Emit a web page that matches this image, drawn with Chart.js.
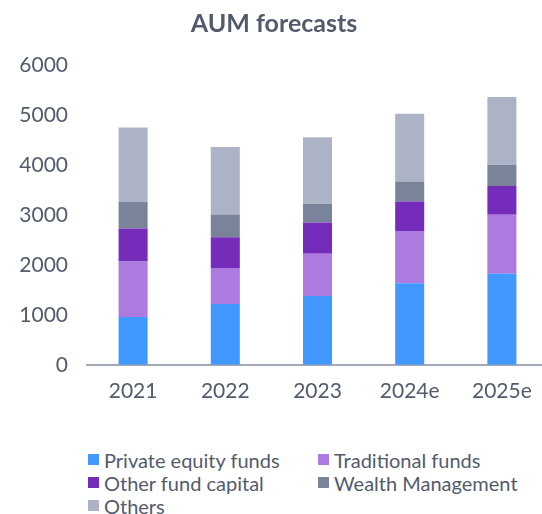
<!DOCTYPE html>
<html>
<head>
<meta charset="utf-8">
<script src="https://cdn.jsdelivr.net/npm/chart.js@4.4.1/dist/chart.umd.min.js"></script>
<style>
    html, body { margin: 0; padding: 0; background: #fff; overflow: hidden; }
    #wrap { position: relative; width: 542px; height: 514px; overflow: hidden; }
    #box { position: absolute; left: 0; top: 0; width: 562px; height: 412px; }
    #legend {
        position: absolute; left: 88px; top: 448px;
        display: grid; grid-template-columns: 230px 230px;
        font-family: Lato, sans-serif; font-size: 20px; color: #525b6d;
    }
    .item { display: flex; align-items: center; height: 23px; white-space: nowrap; }
    .sw { width: 11px; height: 11px; margin-right: 5px; flex: none; }
</style>
</head>
<body>
<div id="wrap">
    <div id="box"><canvas id="chart"></canvas></div>
    <div id="legend"></div>
</div>
<script>
const years = ["2021", "2022", "2023", "2024e", "2025e"];
const privateEquity = [955, 1215, 1375, 1630, 1820];
const traditional = [1110, 720, 845, 1050, 1185];
const otherFund = [665, 620, 630, 590, 575];
const wealth = [530, 455, 375, 400, 425];
const others = [1490, 1350, 1330, 1355, 1355];

const labels = ["Private equity funds", "Traditional funds", "Other fund capital", "Wealth Management", "Others"];
const colors = ["#4199ff", "#ad7ae0", "#762cbb", "#79839a", "#adb3c6"];
const series = [privateEquity, traditional, otherFund, wealth, others];

const textColor = "#525b6d";

const datasets = series.map((d, i) => ({
    label: labels[i],
    data: d,
    backgroundColor: colors[i],
    borderWidth: 0,
    categoryPercentage: 1,
    barPercentage: 0.315
}));

new Chart(document.getElementById("chart"), {
    type: "bar",
    data: { labels: years, datasets },
    options: {
        responsive: true,
        maintainAspectRatio: false,
        animation: false,
        layout: { padding: { left: 0, right: 14, bottom: 2, top: 0 } },
        plugins: {
            legend: { display: false },
            tooltip: { enabled: false },
            title: {
                display: true,
                text: "AUM forecasts",
                color: textColor,
                font: { family: "Lato", size: 25, weight: "bold" },
                padding: { top: 9, bottom: 26 }
            }
        },
        scales: {
            x: {
                stacked: true,
                grid: { display: false },
                border: { display: true, color: "#a3a8b8", width: 2 },
                ticks: { color: textColor, font: { family: "Lato", size: 21 }, padding: 6 }
            },
            y: {
                stacked: true,
                min: 0,
                max: 6000,
                grid: { display: false },
                border: { display: false },
                // fixed axis width so the plot starts where the reference does
                afterFit: (scale) => { scale.width = 87; },
                ticks: {
                    stepSize: 1000,
                    color: textColor,
                    font: { family: "Lato", size: 21 },
                    padding: 11,
                    callback: (v) => String(v)
                }
            }
        }
    }
});

// legend in two columns, like the reference
const legendEl = document.getElementById("legend");
labels.forEach((l, i) => {
    const it = document.createElement("div");
    it.className = "item";
    const sw = document.createElement("span");
    sw.className = "sw";
    sw.style.background = colors[i];
    const tx = document.createElement("span");
    tx.textContent = l;
    it.appendChild(sw);
    it.appendChild(tx);
    legendEl.appendChild(it);
});
</script>
</body>
</html>
